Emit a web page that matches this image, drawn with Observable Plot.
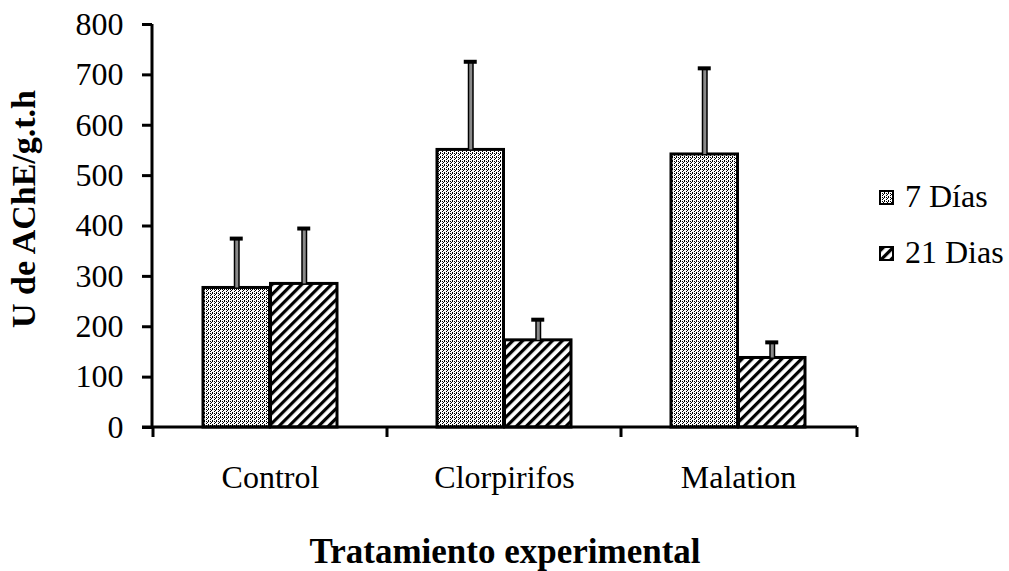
<!DOCTYPE html>
<html><head><meta charset="utf-8">
<script src="https://cdn.jsdelivr.net/npm/d3@7"></script>
<script src="https://cdn.jsdelivr.net/npm/@observablehq/plot@0.6"></script>
<style>body{margin:0;background:#fff} svg{display:block}</style>
</head><body><div id="chart"></div>
<script>
// ---- data ----
const categories = ["Control", "Clorpirifos", "Malation"];
const seriesNames = ["7 Días", "21 Dias"];
const values7 = [277, 551, 542];
const errHigh7 = [375, 726, 713];
const values21 = [285, 173, 138];
const errHigh21 = [395, 214, 169];
const yTicks = [0, 100, 200, 300, 400, 500, 600, 700, 800];
const xTitle = "Tratamiento experimental";
const yTitle = "U de AChE/g.t.h";

// ---- layout ----
const W = 1009, H = 571, ML = 152, MR = 152, MT = 24, MB = 144;
const PI = 0.4255, PO = 0.2128;
const step = (W - ML - MR) / (categories.length - PI + 2 * PO);
const bw = step * (1 - PI);
const half = bw / 2, q = bw / 4, capHalf = 7;
const FONT = "'Liberation Serif', 'Times New Roman', serif";

const d7 = categories.map((c, i) => ({cat: c, v: values7[i], hi: errHigh7[i]}));
const d21 = categories.map((c, i) => ({cat: c, v: values21[i], hi: errHigh21[i]}));

function decor(index, scales, values, dims) {
  const g = d3.create("svg:g");
  const defs = g.append("defs");
  const p7 = defs.append("pattern").attr("id", "pat7").attr("patternUnits", "userSpaceOnUse")
    .attr("width", 4).attr("height", 4);
  p7.append("rect").attr("width", 4).attr("height", 4).attr("fill", "white");
  [[0,0,1,2],[2,1,1,1],[2,3,1,1],[3,2,1,1]].forEach(([x,y,w,h]) =>
    p7.append("rect").attr("x", x).attr("y", y).attr("width", w).attr("height", h).attr("fill", "black"));
  const p21 = defs.append("pattern").attr("id", "pat21").attr("patternUnits", "userSpaceOnUse")
    .attr("width", 7).attr("height", 7).attr("patternTransform", "rotate(45)");
  p21.append("rect").attr("width", 7).attr("height", 7).attr("fill", "white");
  p21.append("rect").attr("width", 3.2).attr("height", 7).attr("fill", "black");

  const y = scales.y, x = scales.x;
  const left = dims.marginLeft, right = dims.width - dims.marginRight;
  // y axis line
  g.append("line").attr("x1", left).attr("x2", left).attr("y1", y(800)).attr("y2", y(0))
    .attr("stroke", "black").attr("stroke-width", 3);
  // x axis line
  g.append("line").attr("x1", left - 10).attr("x2", right).attr("y1", y(0)).attr("y2", y(0))
    .attr("stroke", "black").attr("stroke-width", 3);
  // category boundary ticks
  const st = x.step ? x.step() : step;
  const bounds = categories.map(c => x(c) - (st - x.bandwidth()) / 2);
  bounds.push(right);
  bounds.forEach(b => g.append("line").attr("x1", b).attr("x2", b).attr("y1", y(0)).attr("y2", y(0) + 10)
    .attr("stroke", "black").attr("stroke-width", 3));
  // legend
  const lx = right + 23;
  const fills = ["url(#pat7)", "url(#pat21)"];
  seriesNames.forEach((s, i) => {
    const ly = 191 + i * 56;
    g.append("rect").attr("x", lx).attr("y", ly).attr("width", 13).attr("height", 13)
      .attr("fill", fills[i]).attr("stroke", "black").attr("stroke-width", 2);
    g.append("text").attr("x", lx + 25).attr("y", ly + 16).attr("font-size", 32)
      .attr("text-anchor", "start")
      .attr("font-family", FONT).attr("fill", "black").text(s);
  });
  return g.node();
}

const chart = Plot.plot({
  width: W, height: H,
  marginLeft: ML, marginRight: MR, marginTop: MT, marginBottom: MB,
  style: {fontFamily: FONT, color: "black", background: "white"},
  x: {domain: categories, paddingInner: PI, paddingOuter: PO, axis: null},
  y: {domain: [0, 800], axis: null},
  marks: [
    Plot.barY(d7, {x: "cat", y: "v", fill: "url(#pat7)", stroke: "black", strokeWidth: 3, insetRight: half}),
    Plot.barY(d21, {x: "cat", y: "v", fill: "url(#pat21)", stroke: "black", strokeWidth: 3, insetLeft: half}),
    Plot.ruleX(d7, {x: "cat", y1: "v", y2: "hi", dx: -q, stroke: "black", strokeWidth: 6}),
    Plot.ruleX(d7, {x: "cat", y1: "v", y2: "hi", dx: -q, stroke: "#8a8a8a", strokeWidth: 3}),
    Plot.tickY(d7, {x: "cat", y: "hi", insetLeft: q - capHalf, insetRight: bw - q - capHalf, stroke: "black", strokeWidth: 4}),
    Plot.ruleX(d21, {x: "cat", y1: "v", y2: "hi", dx: q, stroke: "black", strokeWidth: 6}),
    Plot.ruleX(d21, {x: "cat", y1: "v", y2: "hi", dx: q, stroke: "#8a8a8a", strokeWidth: 3}),
    Plot.tickY(d21, {x: "cat", y: "hi", insetLeft: bw - q - capHalf, insetRight: q - capHalf, stroke: "black", strokeWidth: 4}),
    decor,
    Plot.axisY({ticks: yTicks, tickSize: 10, tickPadding: 19, fontSize: 32, strokeWidth: 3, label: null, tickFormat: d => String(d)}),
    Plot.axisX({tickSize: 0, tickPadding: 38, fontSize: 32, label: null}),
    Plot.text([yTitle], {frameAnchor: "left", textAnchor: "middle", rotate: -90, dx: -128, dy: -17, fontWeight: "bold", fontSize: 34, fill: "black"}),
    Plot.text([xTitle], {frameAnchor: "bottom", dy: 135, fontWeight: "bold", fontSize: 35, fill: "black"})
  ]
});
document.getElementById("chart").appendChild(chart);
</script>
</body></html>
